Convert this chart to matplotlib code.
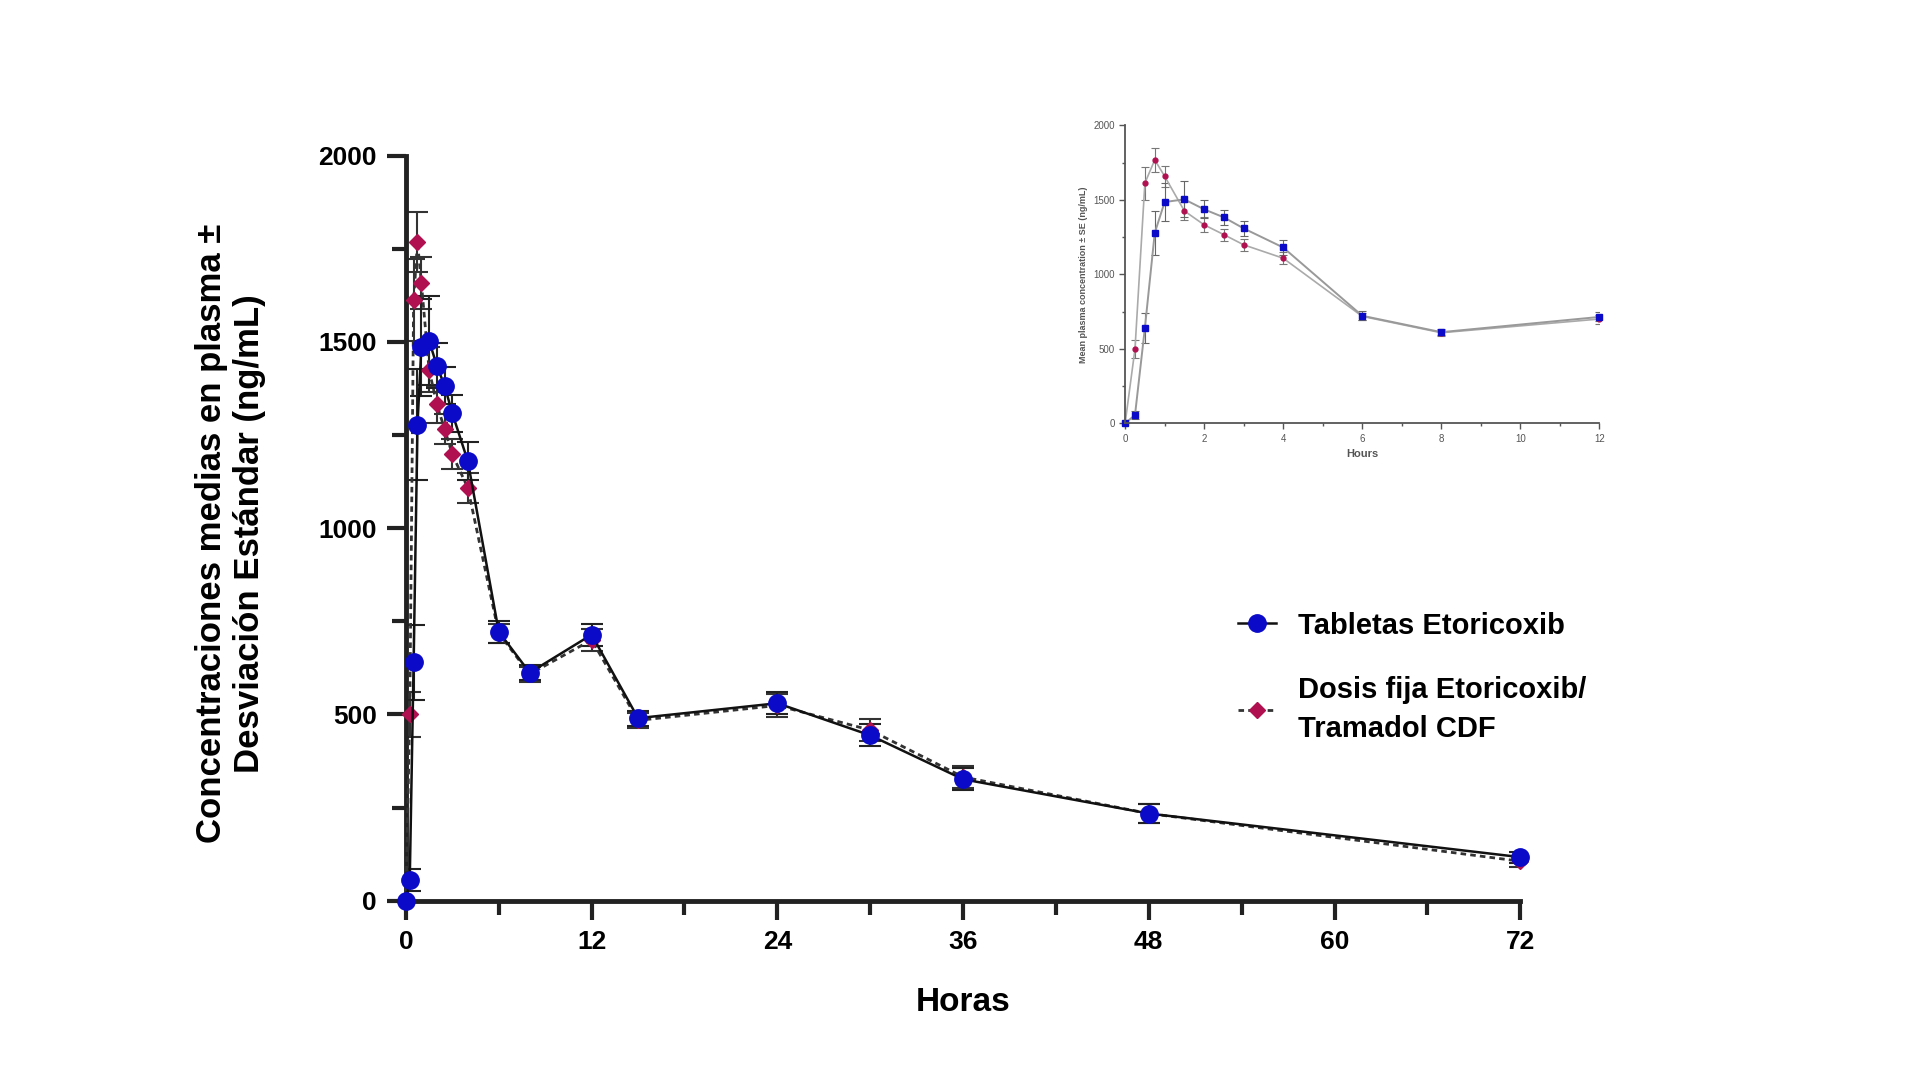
import numpy as np
import matplotlib
matplotlib.use("Agg")
import matplotlib.pyplot as plt
from matplotlib.ticker import MultipleLocator

plt.rcParams['font.family'] = ['Liberation Sans', 'DejaVu Sans']

# --- data ---
horas = [0, 0.25, 0.5, 0.75, 1, 1.5, 2, 2.5, 3, 4, 6, 8, 12, 15, 24, 30, 36, 48, 72]

tabletas = [0, 56, 640, 1278, 1485, 1503, 1436, 1382, 1308, 1180, 722, 612, 714, 490, 530, 444, 326, 234, 117]
tabletas_sd = [0, 30, 100, 150, 130, 120, 60, 50, 50, 50, 30, 20, 30, 20, 30, 30, 30, 25, 15]

cdf = [0, 500, 1612, 1768, 1658, 1425, 1332, 1266, 1198, 1108, 718, 608, 700, 484, 524, 458, 332, 234, 106]
cdf_sd = [0, 60, 110, 80, 70, 60, 50, 40, 40, 40, 25, 20, 30, 20, 30, 30, 30, 25, 15]

label_tab = "Tabletas Etoricoxib"
label_cdf = "Dosis fija Etoricoxib/\nTramadol CDF"

blue = "#0a0ac8"
red = "#b01050"

fig = plt.figure(figsize=(19.2, 10.8), dpi=100)

# --- main plot ---
ax = fig.add_axes([0.2114, 0.166, 0.5804, 0.690])

ax.errorbar(horas, cdf, yerr=cdf_sd, fmt="none", ecolor="#333333",
            elinewidth=1.5, capsize=8, capthick=1.5, zorder=2)
ax.errorbar(horas, tabletas, yerr=tabletas_sd, fmt="none", ecolor="#222222",
            elinewidth=1.5, capsize=8, capthick=1.5, zorder=2)
l_cdf, = ax.plot(horas, cdf, linestyle=(0, (2, 1.5)), color="#333333", linewidth=2,
                 marker="D", markersize=8, markerfacecolor=red, markeredgecolor=red,
                 clip_on=False, zorder=3)
l_tab, = ax.plot(horas, tabletas, linestyle="-", color="#111111", linewidth=1.8,
                 marker="o", markersize=12.5, markerfacecolor=blue, markeredgecolor=blue,
                 clip_on=False, zorder=4)

ax.set_xlim(0, 72)
ax.set_ylim(0, 2000)
ax.xaxis.set_major_locator(MultipleLocator(12))
ax.xaxis.set_minor_locator(MultipleLocator(6))
ax.yaxis.set_major_locator(MultipleLocator(500))
ax.yaxis.set_minor_locator(MultipleLocator(250))
for side in ["top", "right"]:
    ax.spines[side].set_visible(False)
for side in ["left", "bottom"]:
    ax.spines[side].set_linewidth(3.5)
    ax.spines[side].set_color("#222222")
ax.tick_params(which="major", length=14, width=3, color="#222222", pad=7)
ax.tick_params(which="minor", length=10, width=3, color="#222222")
ax.tick_params(axis="both", labelsize=19)
for t in ax.get_yticklabels() + ax.get_xticklabels():
    t.set_fontweight("bold")

ax.set_xlabel("Horas", fontsize=24, fontweight="bold", labelpad=24)
fig.text(0.120, 0.506, "Concentraciones medias en plasma ±\nDesviación Estándar (ng/mL)",
         rotation=90, ha="center", va="center", fontsize=25, fontweight="bold",
         linespacing=1.2)

leg = fig.legend([l_tab, l_cdf], [label_tab, label_cdf], loc="upper left",
                 bbox_to_anchor=(0.631, 0.458), frameon=False,
                 prop={"size": 21, "weight": "bold"},
                 handlelength=1.3, handletextpad=0.75, labelspacing=1.25)
for t in leg.get_texts():
    t.set_linespacing(1.5)

# --- inset (first 12 h) ---
idx = [i for i, h in enumerate(horas) if h <= 12]
h12 = [horas[i] for i in idx]
ins = fig.add_axes([0.586, 0.608, 0.247, 0.276])
ins.errorbar(h12, [cdf[i] for i in idx], yerr=[cdf_sd[i] for i in idx], fmt="none",
             ecolor="#777777", elinewidth=0.8, capsize=3, capthick=0.8)
ins.errorbar(h12, [tabletas[i] for i in idx], yerr=[tabletas_sd[i] for i in idx], fmt="none",
             ecolor="#666666", elinewidth=0.8, capsize=3, capthick=0.8)
ins.plot(h12, [cdf[i] for i in idx], color="#aaaaaa", linewidth=1.2, marker="o",
         markersize=3.5, markerfacecolor=red, markeredgecolor=red, clip_on=False)
ins.plot(h12, [tabletas[i] for i in idx], color="#999999", linewidth=1.4, marker="s",
         markersize=4.5, markerfacecolor=blue, markeredgecolor=blue, clip_on=False)
ins.set_xlim(0, 12)
ins.set_ylim(0, 2000)
ins.xaxis.set_major_locator(MultipleLocator(2))
ins.xaxis.set_minor_locator(MultipleLocator(1))
ins.yaxis.set_major_locator(MultipleLocator(500))
ins.yaxis.set_minor_locator(MultipleLocator(250))
for side in ["top", "right"]:
    ins.spines[side].set_visible(False)
for side in ["left", "bottom"]:
    ins.spines[side].set_linewidth(1.3)
    ins.spines[side].set_color("#555555")
ins.tick_params(which="major", length=4, width=1, color="#555555", labelsize=7,
                labelcolor="#555555")
ins.tick_params(which="minor", length=2.5, width=1, color="#555555")
ins.set_xlabel("Hours", fontsize=8, color="#555555", fontweight="bold")
ins.set_ylabel("Mean plasma concentration ± SE (ng/mL)", fontsize=6.5,
               color="#555555", fontweight="bold")

fig.savefig("out.png", dpi=100)
